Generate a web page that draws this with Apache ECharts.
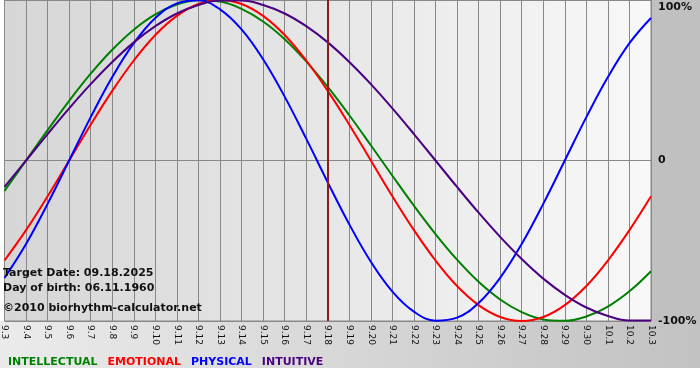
<!DOCTYPE html>
<html>
<head>
<meta charset="utf-8">
<script src="https://cdn.jsdelivr.net/npm/echarts@6/dist/echarts.min.js"></script>
<style>
  html, body { margin: 0; padding: 0; background: #ffffff; }
  #chart { width: 700px; height: 380px; }
</style>
</head>
<body>
<div id="chart"></div>
<script>
// ---- data ----
var dates = ['9.3','9.4','9.5','9.6','9.7','9.8','9.9','9.10','9.11','9.12','9.13','9.14','9.15','9.16','9.17','9.18','9.19','9.20','9.21','9.22','9.23','9.24','9.25','9.26','9.27','9.28','9.29','9.30','10.1','10.2','10.3'];
var intellectual = [-18.9, 0, 18.9, 37.2, 54.1, 69.0, 81.5, 91.0, 97.2, 99.9, 99.0, 94.5, 86.6, 75.6, 61.8, 45.8, 28.2, 9.5, -9.5, -28.2, -45.8, -61.8, -75.6, -86.6, -94.5, -99.0, -99.9, -97.2, -91.0, -81.5, -69.0];
var emotional = [-62.3, -43.4, -22.3, 0, 22.3, 43.4, 62.3, 78.2, 90.1, 97.5, 100, 97.5, 90.1, 78.2, 62.3, 43.4, 22.3, 0, -22.3, -43.4, -62.3, -78.2, -90.1, -97.5, -100, -97.5, -90.1, -78.2, -62.3, -43.4, -22.3];
var physical = [-73.1, -52.0, -27.0, 0, 27.0, 52.0, 73.1, 88.8, 97.9, 99.8, 94.2, 81.7, 63.1, 39.8, 13.6, -13.6, -39.8, -63.1, -81.7, -94.2, -99.8, -97.9, -88.8, -73.1, -52.0, -27.0, 0, 27.0, 52.0, 73.1, 88.8];
var intuitive = [-16.5, 0, 16.5, 32.5, 47.6, 61.4, 73.6, 83.7, 91.6, 96.9, 99.7, 99.7, 96.9, 91.6, 83.7, 73.6, 61.4, 47.6, 32.5, 16.5, 0, -16.5, -32.5, -47.6, -61.4, -73.6, -83.7, -91.6, -96.9, -99.7, -99.7];
var seriesNames = ['INTELLECTUAL', 'EMOTIONAL', 'PHYSICAL', 'INTUITIVE'];
var yTickLabels = {'100': '100%', '0': '0', '-100': '-100%'};
var targetDate = '9.18';
var infoLines = ['Target Date: 09.18.2025', 'Day of birth: 06.11.1960', '\u00A92010 biorhythm-calculator.net'];

// ---- styles ----
var colors = ['#008000', '#ff0000', '#0000ff', '#4b0082'];
var values = [intellectual, emotional, physical, intuitive];
var boldFont = 'DejaVu Sans';

var chart = echarts.init(document.getElementById('chart'), null, {renderer: 'canvas'});

var series = seriesNames.map(function (n, i) {
  var s = {
    name: n,
    type: 'line',
    data: values[i],
    smooth: 0.4,
    showSymbol: false,
    symbol: 'none',
    lineStyle: { color: colors[i], width: 2 },
    itemStyle: { color: colors[i] },
    animation: false,
    z: 3
  };
  if (i === 0) {
    s.markLine = {
      silent: true,
      symbol: ['none', 'none'],
      label: { show: false },
      lineStyle: { color: '#8c1c1c', width: 2, type: 'solid' },
      data: [{ xAxis: targetDate }],
      animation: false
    };
  }
  return s;
});

var option = {
  backgroundColor: '#ffffff',
  animation: false,
  graphic: [
    { type: 'rect', z: -10, shape: { x: 651, y: 0, width: 49, height: 321 }, style: { fill: '#c0c0c0' } },
    { type: 'rect', z: -10, shape: { x: 0, y: 321, width: 700, height: 47 },
      style: { fill: new echarts.graphic.LinearGradient(0, 0, 1, 0, [
        { offset: 0, color: '#ebebeb' }, { offset: 1, color: '#c2c2c2' }]) } },
    { type: 'text', z: 50, left: 3, top: 268, style: { text: infoLines[0], font: 'bold 11px ' + boldFont, fill: '#111' } },
    { type: 'text', z: 50, left: 3, top: 283, style: { text: infoLines[1], font: 'bold 11px ' + boldFont, fill: '#111' } },
    { type: 'text', z: 50, left: 3, top: 303, style: { text: infoLines[2], font: 'bold 11px ' + boldFont, fill: '#111' } }
  ],
  grid: {
    left: 0, top: 0, width: 651, height: 321,
    show: true,
    borderColor: '#888888', borderWidth: 1,
    backgroundColor: new echarts.graphic.LinearGradient(0, 0, 1, 0, [
      { offset: 0, color: '#d6d6d6' }, { offset: 1, color: '#f8f8f8' }])
  },
  legend: {
    left: 3, top: 357, padding: 0,
    icon: 'none', itemWidth: 0, itemHeight: 0, itemGap: 5,
    selectedMode: false,
    textStyle: { fontFamily: boldFont, fontWeight: 'bold', fontSize: 11 },
    data: seriesNames.map(function (n, i) { return { name: n, textStyle: { color: colors[i] } }; })
  },
  xAxis: {
    type: 'category',
    data: dates,
    boundaryGap: false,
    axisLine: { show: true, lineStyle: { color: '#888888' } },
    axisTick: { show: true, length: 3, interval: 0, lineStyle: { color: '#888888' } },
    axisLabel: { interval: 0, rotate: -90, fontSize: 9, fontFamily: 'DejaVu Sans', color: '#111', margin: 4 },
    splitLine: { show: true, interval: 0, lineStyle: { color: '#888888', width: 1 } }
  },
  yAxis: {
    type: 'value',
    position: 'right',
    min: -100, max: 100, interval: 100,
    axisLine: { show: false },
    axisTick: { show: false },
    splitLine: { show: true, lineStyle: { color: '#888888', width: 1 } },
    axisLabel: {
      margin: 7,
      color: '#111',
      fontFamily: boldFont, fontWeight: 'bold', fontSize: 11,
      formatter: function (v) {
        var t = yTickLabels[String(v)];
        return v === 100 ? '{top|' + t + '}' : t;
      },
      rich: { top: { padding: [14, 0, 0, 0], fontFamily: boldFont, fontWeight: 'bold', fontSize: 11, color: '#111' } }
    }
  },
  series: series
};
chart.setOption(option);
</script>
</body>
</html>
